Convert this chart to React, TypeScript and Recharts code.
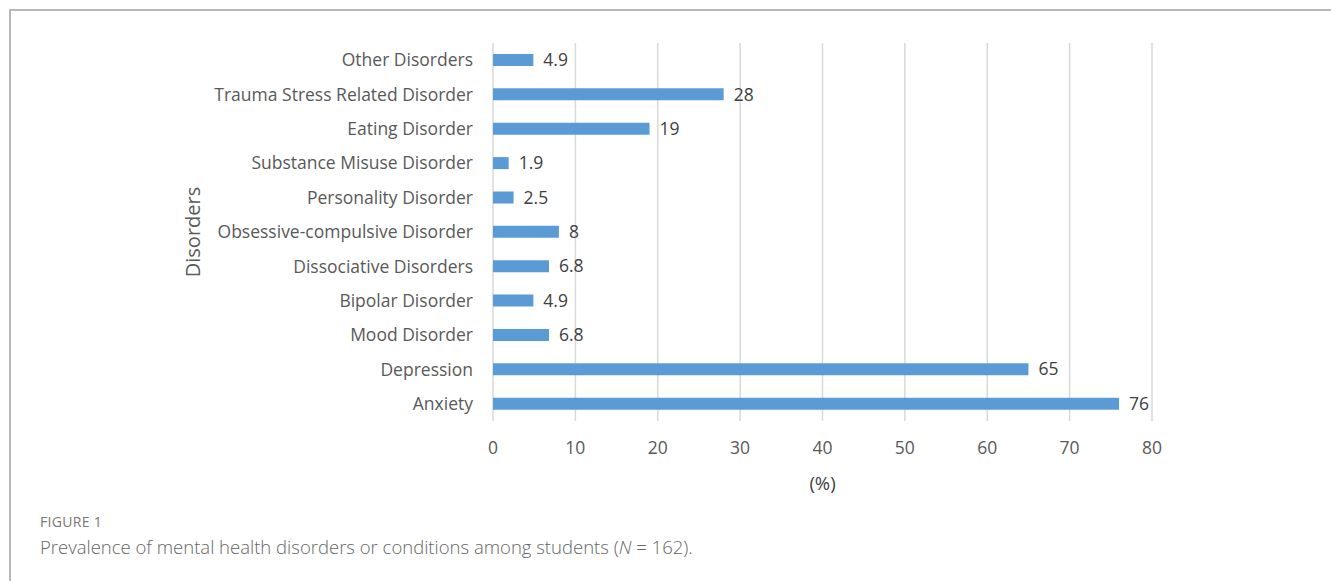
import React from "react";
import { Bar, BarChart, CartesianGrid, LabelList, Label, XAxis, YAxis } from "recharts";

// top to bottom, as they appear in the figure
const disorders = [
  "Other Disorders",
  "Trauma Stress Related Disorder",
  "Eating Disorder",
  "Substance Misuse Disorder",
  "Personality Disorder",
  "Obsessive-compulsive Disorder",
  "Dissociative Disorders",
  "Bipolar Disorder",
  "Mood Disorder",
  "Depression",
  "Anxiety",
];
const prevalence = [4.9, 28, 19, 1.9, 2.5, 8, 6.8, 4.9, 6.8, 65, 76];
const xTicks = [0, 10, 20, 30, 40, 50, 60, 70, 80];

const data = disorders.map((name, i) => ({ name, value: prevalence[i] }));

const font = "'Open Sans', 'DejaVu Sans', sans-serif";

export default function App() {
  return (
    <div style={{ position: "absolute", left: 0, top: 0, width: 1331, height: 581, background: "#fff", fontFamily: font }}>
      <div
        style={{
          position: "absolute",
          left: 9,
          top: 9,
          right: 0,
          bottom: 0,
          borderTop: "2px solid #b8b8b8",
          borderLeft: "2px solid #b8b8b8",
        }}
      />
      <div style={{ position: "absolute", left: 0, top: 0 }}>
        <BarChart
          width={1331}
          height={500}
          layout="vertical"
          data={data}
          margin={{ top: 43, right: 179, bottom: 9, left: 0 }}
          barSize={12}
        >
          <CartesianGrid horizontal={false} stroke="#d9d9d9" strokeWidth={1.5} />
          <XAxis
            type="number"
            domain={[0, 80]}
            ticks={xTicks}
            axisLine={false}
            tickLine={false}
            tickMargin={15}
            height={70}
            tick={{ fill: "#595959", fontSize: 17.5, fontFamily: font }}
          >
            <Label value="(%)" position="insideBottom" offset={1} fill="#404040" fontSize={18.5} fontFamily={font} />
          </XAxis>
          <YAxis
            type="category"
            dataKey="name"
            width={493}
            axisLine={false}
            tickLine={false}
            tickMargin={14}
            interval={0}
            tick={{ fill: "#595959", fontSize: 17.5, fontFamily: font }}
          >
            <Label
              content={() => (
                <text
                  x={192}
                  y={232}
                  transform="rotate(-90 192 232)"
                  textAnchor="middle"
                  dominantBaseline="central"
                  fill="#595959"
                  fontSize={20}
                  fontFamily={font}
                >
                  Disorders
                </text>
              )}
            />
          </YAxis>
          <Bar dataKey="value" fill="#5b9bd5" isAnimationActive={false}>
            <LabelList dataKey="value" position="right" offset={10} fill="#404040" fontSize={17.5} fontFamily={font} />
          </Bar>
        </BarChart>
      </div>
      <div style={{ position: "absolute", left: 40, top: 512, fontSize: 14, color: "#777", letterSpacing: 0.3 }}>FIGURE 1</div>
      <div style={{ position: "absolute", left: 40, top: 534, fontSize: 18.5, color: "#666", fontWeight: 300 }}>
        Prevalence of mental health disorders or conditions among students (<i>N</i> = 162).
      </div>
    </div>
  );
}
